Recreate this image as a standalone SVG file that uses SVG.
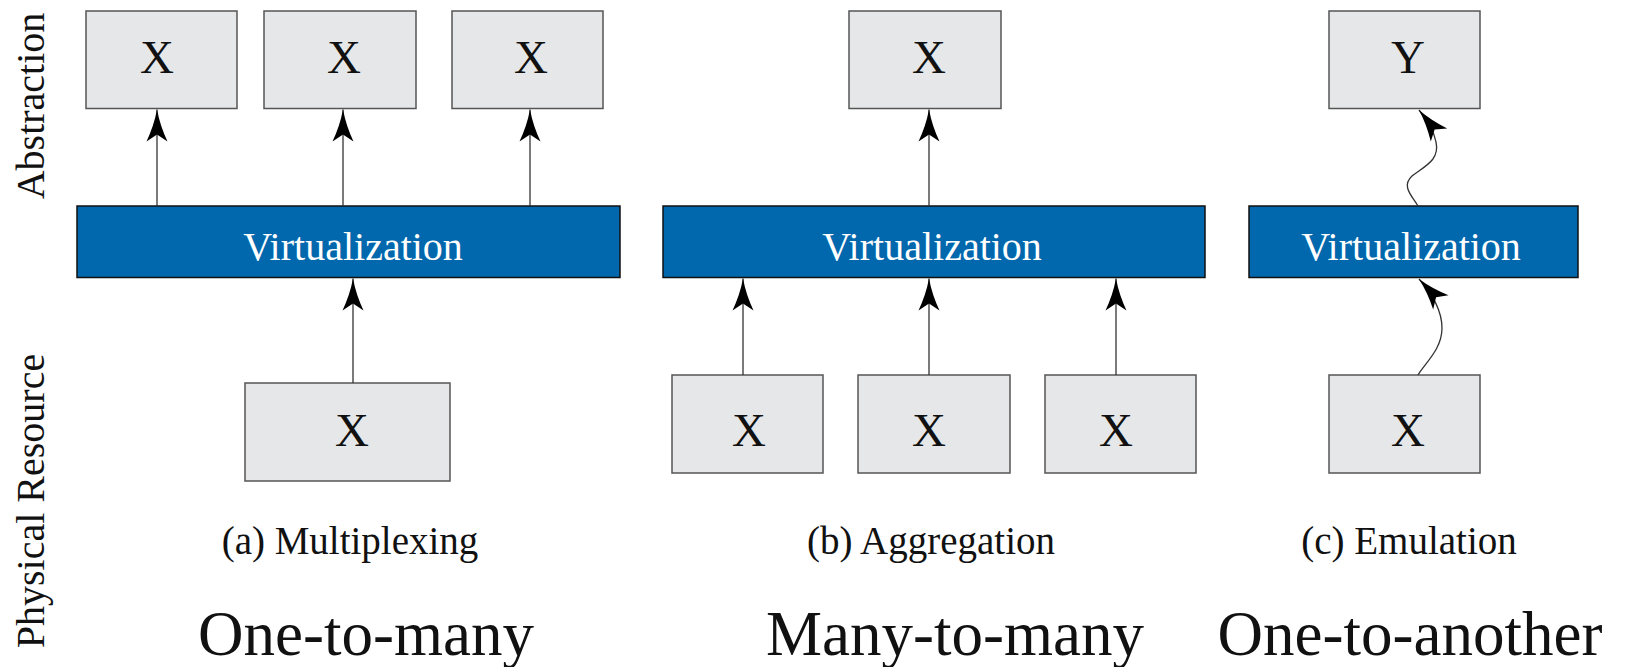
<svg xmlns="http://www.w3.org/2000/svg" width="1628" height="667" viewBox="0 0 1628 667">
<style>
.box{fill:#e6e7e8;stroke:#555;stroke-width:1.5}
.bar{fill:#0168ad;stroke:#111;stroke-width:1.5}
.bt{font-family:"Liberation Serif","Times New Roman",serif;font-size:47px;fill:#111;text-anchor:middle}
.vt{font-family:"Liberation Serif","Times New Roman",serif;font-size:40px;fill:#fff;text-anchor:middle}
.cap{font-family:"Liberation Serif","Times New Roman",serif;font-size:39px;fill:#111;text-anchor:middle}
.big{font-family:"Liberation Serif","Times New Roman",serif;font-size:63px;fill:#111;text-anchor:middle}
.side{font-family:"Liberation Serif","Times New Roman",serif;font-size:40px;fill:#111;text-anchor:middle}
.ln{fill:none;stroke:#333;stroke-width:1.3}
</style>
<defs>
<marker id="ah" markerUnits="userSpaceOnUse" markerWidth="40" markerHeight="30" viewBox="-36 -15 40 30" refX="0" refY="0" orient="auto">
<path d="M0,0 Q-16,-3 -32,-10.5 L-25,0 L-32,10.5 Q-16,3 0,0 Z" fill="#000"/>
</marker>
</defs>
<rect width="1628" height="667" fill="#fff"/>

<g id="labels">
<text class="side" transform="translate(44,106) rotate(-90)">Abstraction</text>
<text class="side" transform="translate(44,501) rotate(-90)">Physical Resource</text>
</g>

<g id="a-top1"><rect class="box" x="86" y="11" width="151" height="97.5"/><text class="bt" x="157" y="73">X</text></g>
<g id="a-top2"><rect class="box" x="264" y="11" width="152" height="97.5"/><text class="bt" x="344" y="73">X</text></g>
<g id="a-top3"><rect class="box" x="452" y="11" width="151" height="97.5"/><text class="bt" x="531" y="73">X</text></g>
<g id="a-virt"><rect class="bar" x="77" y="206" width="543" height="71.5"/><text class="vt" x="353" y="260">Virtualization</text></g>
<g id="a-bottom"><rect class="box" x="245" y="383" width="205" height="98"/><text class="bt" x="352" y="446">X</text></g>
<text class="cap" x="350" y="554">(a) Multiplexing</text>
<text class="big" x="366" y="655">One-to-many</text>

<g id="b-top"><rect class="box" x="849" y="11" width="152" height="97.5"/><text class="bt" x="929" y="73">X</text></g>
<g id="b-virt"><rect class="bar" x="663" y="206" width="542" height="71.5"/><text class="vt" x="932" y="260">Virtualization</text></g>
<g id="b-bottom1"><rect class="box" x="672" y="375" width="151" height="98"/><text class="bt" x="749" y="446">X</text></g>
<g id="b-bottom2"><rect class="box" x="858" y="375" width="152" height="98"/><text class="bt" x="929" y="446">X</text></g>
<g id="b-bottom3"><rect class="box" x="1045" y="375" width="151" height="98"/><text class="bt" x="1116" y="446">X</text></g>
<text class="cap" x="931" y="554">(b) Aggregation</text>
<text class="big" x="955" y="655">Many-to-many</text>

<g id="c-top"><rect class="box" x="1329" y="11" width="151" height="97.5"/><text class="bt" x="1408" y="73">Y</text></g>
<g id="c-virt"><rect class="bar" x="1249" y="206" width="329" height="71.5"/><text class="vt" x="1411" y="260">Virtualization</text></g>
<g id="c-bottom"><rect class="box" x="1329" y="375" width="151" height="98"/><text class="bt" x="1408" y="446">X</text></g>
<text class="cap" x="1409" y="554">(c) Emulation</text>
<text class="big" x="1410" y="655">One-to-another</text>

<g id="connectors">
<path class="ln" d="M157,206 V109.5" marker-end="url(#ah)"/>
<path class="ln" d="M343,206 V109.5" marker-end="url(#ah)"/>
<path class="ln" d="M530,206 V109.5" marker-end="url(#ah)"/>
<path class="ln" d="M353,383 V278.5" marker-end="url(#ah)"/>
<path class="ln" d="M929,206 V109.5" marker-end="url(#ah)"/>
<path class="ln" d="M743,375 V278.5" marker-end="url(#ah)"/>
<path class="ln" d="M929,375 V278.5" marker-end="url(#ah)"/>
<path class="ln" d="M1116,375 V278.5" marker-end="url(#ah)"/>
<path class="ln" d="M1418,206 C1412,196 1401,186 1412,176 C1425,166 1440,160 1436,142 C1434,131 1427,120 1419,110" marker-end="url(#ah)"/>
<path class="ln" d="M1418,375 C1424,364 1442,350 1442,328 C1442,312 1433,294 1419,279" marker-end="url(#ah)"/>
</g>
</svg>
